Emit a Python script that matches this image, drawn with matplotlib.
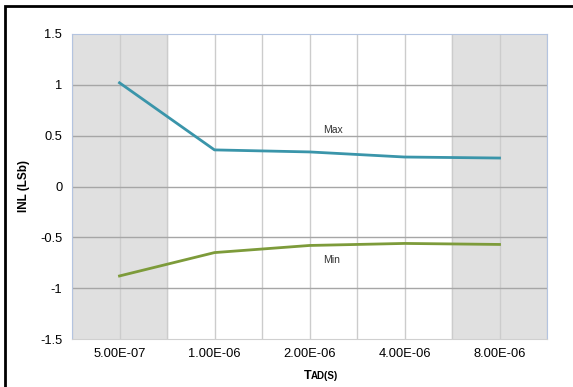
import matplotlib.pyplot as plt
from matplotlib.patches import Rectangle

plt.rcParams['font.family'] = ['Liberation Sans', 'DejaVu Sans']

tad_labels = ['5.00E-07', '1.00E-06', '2.00E-06', '4.00E-06', '8.00E-06']
inl_max = [1.02, 0.36, 0.34, 0.29, 0.28]
inl_min = [-0.88, -0.65, -0.58, -0.56, -0.57]

fig = plt.figure(figsize=(5.73, 3.87), dpi=100)
ax = fig.add_axes([72/573, 48/387, 475/573, 305/387])

n = len(tad_labels)
x = list(range(n))

# shaded first and last columns
ax.axvspan(-0.5, 0.5, color='#e0e0e0', zorder=0)
ax.axvspan(n - 1.5, n - 0.5, color='#e0e0e0', zorder=0)

# grid: vertical every half category, horizontal every 0.5
for k in range(2 * n + 1):
    ax.axvline(-0.5 + k * 0.5, color='#cccccc', lw=1, zorder=1)
for yv in [-1, -0.5, 0, 0.5, 1]:
    ax.axhline(yv, color='#a6a6a6', lw=1, zorder=1)

ax.plot(x, inl_max, color='#3a95aa', lw=2, zorder=3)
ax.plot(x, inl_min, color='#7d9b3a', lw=2, zorder=3)

ax.text(2.14, 0.53, 'Max', fontsize=7.5, color='#333333')
ax.text(2.14, -0.75, 'Min', fontsize=7.5, color='#333333')

ax.set_xlim(-0.5, n - 0.5)
ax.set_ylim(-1.5, 1.5)
ax.set_yticks([-1.5, -1, -0.5, 0, 0.5, 1, 1.5])
ax.set_yticklabels(['-1.5', '-1', '-0.5', '0', '0.5', '1', '1.5'])
ax.set_xticks(x)
ax.set_xticklabels(tad_labels)
ax.tick_params(length=0, labelsize=9.3)
ax.tick_params(axis='x', pad=6.5)
ax.tick_params(axis='y', pad=7)

for side in ['left', 'top', 'right']:
    ax.spines[side].set_color('#b4c4e0')
ax.spines['bottom'].set_color('#d0d0d0')

ax.set_ylabel('INL (LSb)', fontsize=8.5, fontweight='bold')
ax.yaxis.set_label_coords(-0.088, 0.5)
fig.text(311/573, 1 - 379/387, 'T', fontsize=9, fontweight='bold', ha='right', va='baseline')
fig.text(311/573, 1 - 379/387, 'AD(S)', fontsize=7, fontweight='bold', ha='left', va='baseline')

# outer frame
fig.patches.append(Rectangle((5/573, -0.1), 1.2, 1.1 - 6/387, transform=fig.transFigure,
                             fill=False, edgecolor='black', lw=2))

fig.savefig('out.png', dpi=100)
